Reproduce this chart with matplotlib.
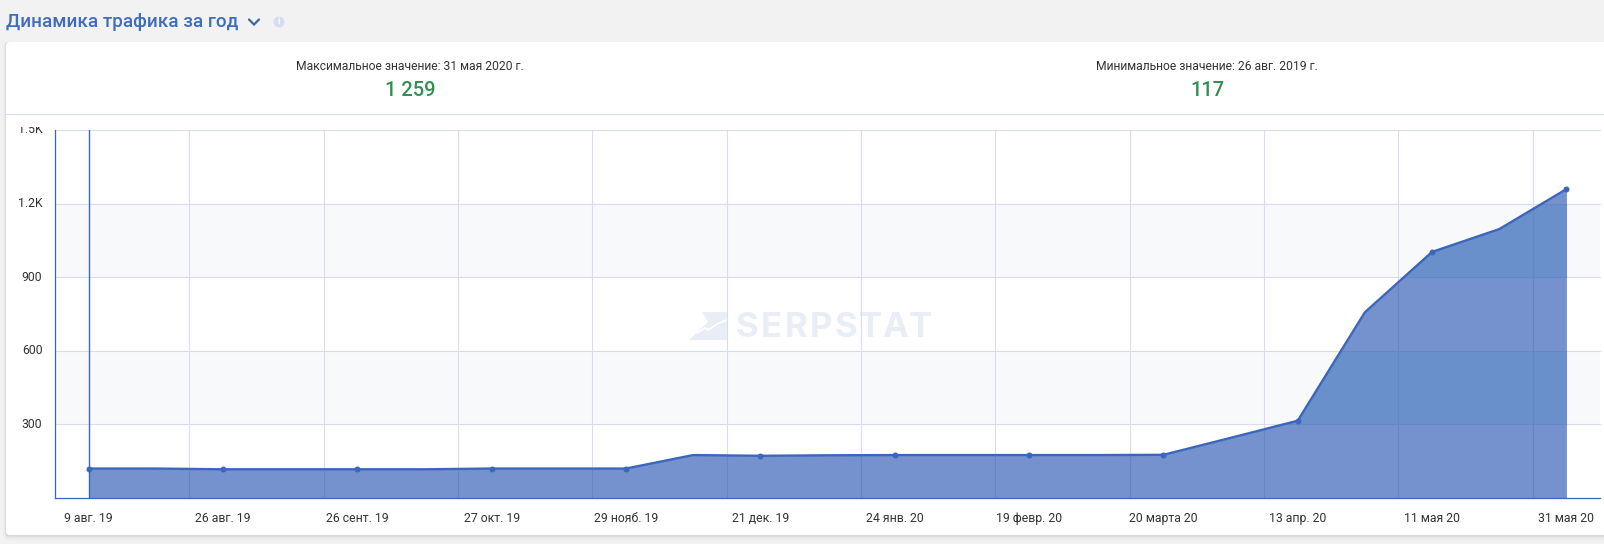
'''
serpstat traffic dynamics card
'''
import numpy as np
import matplotlib
matplotlib.use('Agg')
import matplotlib.pyplot as plt
from matplotlib.patches import FancyBboxPatch, Polygon, Circle
from matplotlib.transforms import Bbox, ScaledTranslation

plt.rcParams['font.family'] = ['Roboto', 'DejaVu Sans']

# data
traffic = [120, 120, 117, 117, 117, 117, 120, 120, 120, 175, 172, 174,
           175, 175, 175, 175, 176, 245, 315, 757, 1003, 1096, 1259]
tick_labels = ['9 авг. 19', '26 авг. 19', '26 сент. 19', '27 окт. 19',
               '29 нояб. 19', '21 дек. 19', '24 янв. 20', '19 февр. 20',
               '20 марта 20', '13 апр. 20', '11 мая 20', '31 мая 20']
y_ticks = [300, 600, 900, 1200, 1500]
y_labels = ['300', '600', '900', '1.2K', '1.5K']
bands = [(300, 600), (900, 1200)]
title = 'Динамика трафика за год'
max_label = 'Максимальное значение: 31 мая 2020 г.'
max_value = '1 259'
min_label = 'Минимальное значение: 26 авг. 2019 г.'
min_value = '117'

W, H = 1604, 544
BLUE = '#3a66bd'
GRID = '#d9dcea'
GREEN = '#2f9151'
TEXT = '#333333'

fig = plt.figure(figsize=(W / 100, H / 100), dpi=100, facecolor='#f2f2f3')

# page layer in pixel coords
bg = fig.add_axes([0, 0, 1, 1], zorder=0)
bg.set_xlim(0, W)
bg.set_ylim(H, 0)
bg.axis('off')

for grow, alpha in [(5, 0.02), (3, 0.03), (1.5, 0.05)]:
    bg.add_patch(FancyBboxPatch((6 - grow / 2, 42), 1610 + grow, 493 + grow,
                                boxstyle='round,pad=0,rounding_size=4',
                                fc='black', ec='none', alpha=alpha))
bg.add_patch(FancyBboxPatch((6, 42), 1610, 493,
                            boxstyle='round,pad=0,rounding_size=4',
                            fc='white', ec='none'))
bg.plot([6, W], [114.2, 114.2], color=GRID, lw=0.8)

bg.text(6, 22, title, color='#3f6cc0', fontsize=13.6, weight='medium',
        va='center', ha='left')
bg.plot([249, 254, 259], [19.5, 24.5, 19.5], color='#3a66a8', lw=1.6,
        solid_capstyle='round', solid_joinstyle='miter')
bg.add_patch(Circle((279, 22), 5.5, fc='#d5ddf0', ec='none'))
bg.text(279, 22, 'i', color='white', fontsize=6.5, weight='bold',
        ha='center', va='center')

bg.text(410, 66, max_label, color=TEXT, fontsize=8.7, ha='center', va='center')
bg.text(410, 90, max_value, color=GREEN, fontsize=14.5, weight='medium',
        ha='center', va='center')
bg.text(1207, 66, min_label, color=TEXT, fontsize=8.7, ha='center', va='center')
bg.text(1207, 90, min_value, color=GREEN, fontsize=14.5, weight='medium',
        ha='center', va='center')

# chart
left, right, top, bottom = 55, 1600, 130, 498
ax = fig.add_axes([left / W, 1 - bottom / H, (right - left) / W, (bottom - top) / H],
                  zorder=1)
ax.patch.set_alpha(0)
x = np.arange(len(traffic))
ax.set_xlim(-0.5, 22.5)
ax.set_ylim(0, 1500)

band_patches = [ax.axhspan(lo, hi, fc='#f8f9fb', ec='none', zorder=1) for lo, hi in bands]

grid_x = x[1::2] + 0.5
for gx in grid_x:
    ax.axvline(gx, color=GRID, lw=0.8, zorder=2)
for yt in y_ticks:
    ax.axhline(yt, color=GRID, lw=0.8, zorder=2, clip_on=False)

# watermark sits on pixel layer, under grid
wm_color = '#e9edf6'
bg.add_patch(Polygon([(702, 312), (727, 312), (727, 340), (689, 340), (708, 322)],
                     fc=wm_color, ec='none'))
bg.plot([697, 705, 708, 717, 727], [333, 328, 330, 324, 320], color='white', lw=1.3)
for i, letter in enumerate('SERPSTAT'):
    bg.text(747 + i * 24.7, 328, letter, color=wm_color, fontsize=25,
            weight='bold', family='Inter', ha='center', va='center')

area = ax.fill_between(x, 0, traffic, color='#7592ce', lw=0, zorder=3)
for patch in band_patches:
    band_area = ax.fill_between(x, 0, traffic, color='#6990cb', lw=0, zorder=3.1)
    band_area.set_clip_path(patch)

# grid shows through the area a bit darker
area_path = area.get_paths()[0]
for gx in grid_x:
    line = ax.axvline(gx, color='#6587c8', lw=0.8, zorder=3.2)
    line.set_clip_path(area_path, area.get_transform())
for yt in y_ticks:
    line = ax.axhline(yt, color='#6587c8', lw=0.8, zorder=3.2)
    line.set_clip_path(area_path, area.get_transform())

ax.axvline(0, color=BLUE, lw=1.0, zorder=4)
ax.plot(x, traffic, color=BLUE, lw=1.7, zorder=5, clip_on=False)
ax.plot(x[::2], traffic[::2], 'o', color=BLUE, ms=4.3, mew=0, zorder=6, clip_on=False)

for side in ['top', 'right']:
    ax.spines[side].set_visible(False)
for side in ['left', 'bottom']:
    ax.spines[side].set_color(BLUE)
    ax.spines[side].set_linewidth(0.9)
    ax.spines[side].set_zorder(7)

ax.set_xticks(x[::2])
ax.set_xticklabels(tick_labels, fontsize=8.8, color=TEXT)
ax.set_yticks(y_ticks)
ax.set_yticklabels(y_labels, fontsize=8.8, color=TEXT)
ax.tick_params(axis='both', length=0)
ax.tick_params(axis='x', pad=10)
ax.tick_params(axis='y', pad=9)

# y labels sit a little above their lines, top one is cut by the chart frame
shift = ScaledTranslation(0, 1.5 / 100, fig.dpi_scale_trans)
for lab in ax.get_yticklabels():
    lab.set_transform(lab.get_transform() + shift)
    if lab.get_text() == '1.5K':
        lab.set_clip_on(True)
        lab.set_clip_box(bg.transData.transform_bbox(Bbox([[0, H], [W, top - 3.5]])))

fig.savefig('out.png', dpi=100, facecolor=fig.get_facecolor())
